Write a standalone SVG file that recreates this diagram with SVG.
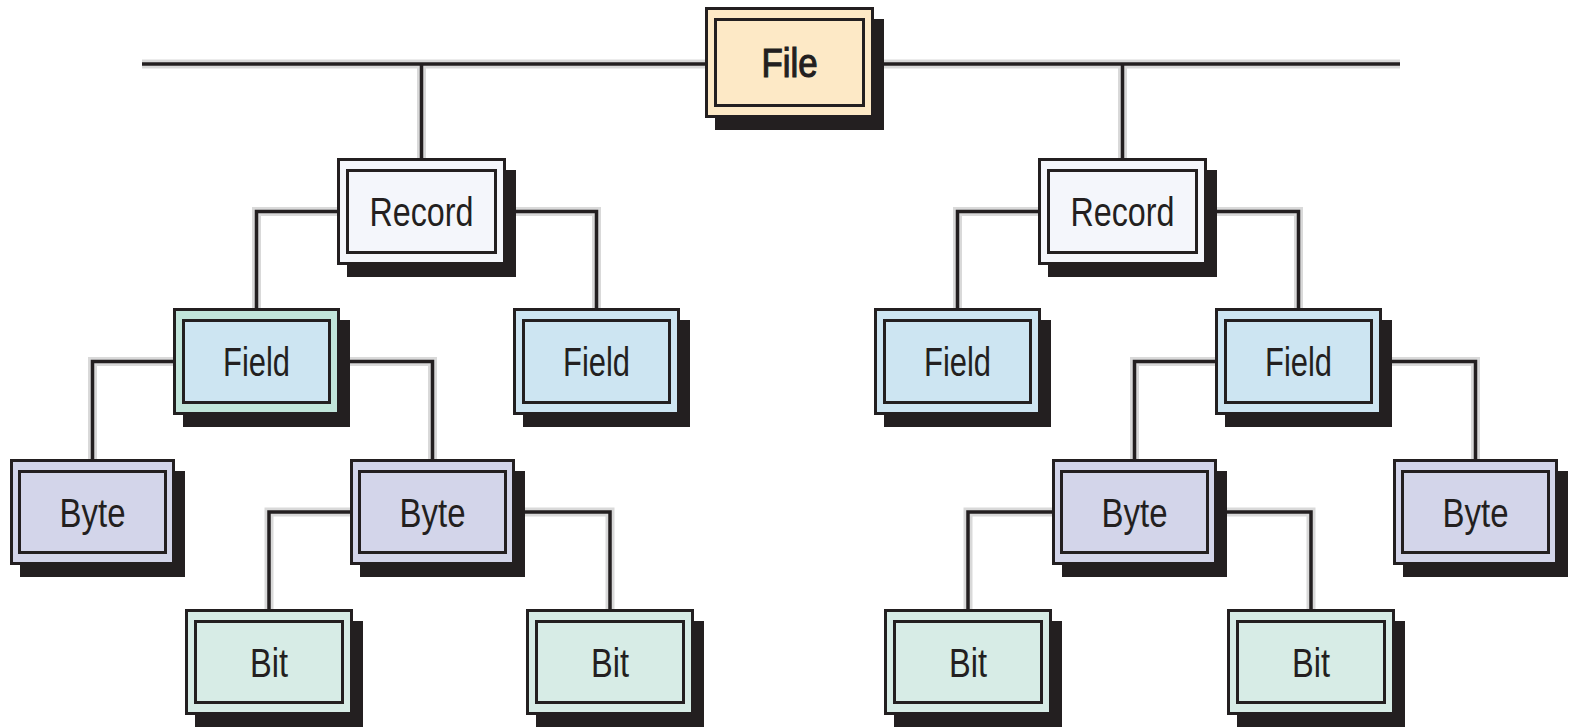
<svg xmlns="http://www.w3.org/2000/svg" width="1573" height="727" viewBox="0 0 1573 727">
  <style>
    .halo { fill: none; stroke: #d9d9d9; stroke-width: 9; }
    .wire { fill: none; stroke: #231f20; stroke-width: 3.5; }
    .shadow { fill: #231f20; }
    .frame { stroke: #231f20; stroke-width: 3; }
    .lbl { font-family: "Liberation Sans", Arial, sans-serif; font-size: 40px; fill: #231f20; text-anchor: middle; }
    .heavy { stroke: #231f20; stroke-width: 1.2; }
    .file { fill: #fde9c6; }
    .record { fill: #f4f6fb; }
    .field { fill: #cde5f2; }
    .fieldg { fill: #c1e5da; }
    .byte { fill: #d3d5ea; }
    .bit { fill: #d7ece6; }
  </style>

  <!-- connectors -->
  <g id="connectors">
    <g class="halo">
      <path d="M142 64 H1400"/>
      <path d="M421.5 64 V158 M1122.5 64 V158"/>
      <path d="M337 211.5 H256.5 V308 M506 211.5 H596.5 V308"/>
      <path d="M1038 211.5 H957.5 V308 M1207 211.5 H1298.5 V308"/>
      <path d="M173 361.5 H92.5 V459 M340 361.5 H432.5 V459"/>
      <path d="M1215 361.5 H1134.5 V459 M1382 361.5 H1475.5 V459"/>
      <path d="M350 512 H269 V609 M515 512 H610 V609"/>
      <path d="M1052 512 H968 V609 M1217 512 H1311 V609"/>
    </g>
    <g class="wire">
      <path d="M142 64 H1400"/>
      <path d="M421.5 64 V158 M1122.5 64 V158"/>
      <path d="M337 211.5 H256.5 V308 M506 211.5 H596.5 V308"/>
      <path d="M1038 211.5 H957.5 V308 M1207 211.5 H1298.5 V308"/>
      <path d="M173 361.5 H92.5 V459 M340 361.5 H432.5 V459"/>
      <path d="M1215 361.5 H1134.5 V459 M1382 361.5 H1475.5 V459"/>
      <path d="M350 512 H269 V609 M515 512 H610 V609"/>
      <path d="M1052 512 H968 V609 M1217 512 H1311 V609"/>
    </g>
  </g>

  <!-- File -->
  <g id="file">
    <rect class="shadow" x="715" y="19" width="169" height="111"/>
    <rect class="frame file" x="706.5" y="8.5" width="166" height="108"/>
    <rect class="frame file" x="715.5" y="19.5" width="148" height="86"/>
    <text class="lbl heavy" x="789.5" y="77" textLength="56" lengthAdjust="spacingAndGlyphs">File</text>
  </g>

  <!-- Records -->
  <g id="record-left">
    <rect class="shadow" x="347" y="170" width="169" height="107"/>
    <rect class="frame record" x="338.5" y="159.5" width="166" height="104"/>
    <rect class="frame record" x="347.5" y="170.5" width="148" height="82"/>
    <text class="lbl" x="421.5" y="226" textLength="104" lengthAdjust="spacingAndGlyphs">Record</text>
  </g>
  <g id="record-right">
    <rect class="shadow" x="1048" y="170" width="169" height="107"/>
    <rect class="frame record" x="1039.5" y="159.5" width="166" height="104"/>
    <rect class="frame record" x="1048.5" y="170.5" width="148" height="82"/>
    <text class="lbl" x="1122.5" y="226" textLength="104" lengthAdjust="spacingAndGlyphs">Record</text>
  </g>

  <!-- Fields -->
  <g id="field-left-1">
    <rect class="shadow" x="183" y="320" width="167" height="107"/>
    <rect class="frame fieldg" x="174.5" y="309.5" width="164" height="104"/>
    <rect class="frame field" x="183.5" y="320.5" width="146" height="82"/>
    <text class="lbl" x="256.5" y="376" textLength="67" lengthAdjust="spacingAndGlyphs">Field</text>
  </g>
  <g id="field-left-2">
    <rect class="shadow" x="523" y="320" width="167" height="107"/>
    <rect class="frame field" x="514.5" y="309.5" width="164" height="104"/>
    <rect class="frame field" x="523.5" y="320.5" width="146" height="82"/>
    <text class="lbl" x="596.5" y="376" textLength="67" lengthAdjust="spacingAndGlyphs">Field</text>
  </g>
  <g id="field-right-1">
    <rect class="shadow" x="884" y="320" width="167" height="107"/>
    <rect class="frame field" x="875.5" y="309.5" width="164" height="104"/>
    <rect class="frame field" x="884.5" y="320.5" width="146" height="82"/>
    <text class="lbl" x="957.5" y="376" textLength="67" lengthAdjust="spacingAndGlyphs">Field</text>
  </g>
  <g id="field-right-2">
    <rect class="shadow" x="1225" y="320" width="167" height="107"/>
    <rect class="frame field" x="1216.5" y="309.5" width="164" height="104"/>
    <rect class="frame field" x="1225.5" y="320.5" width="146" height="82"/>
    <text class="lbl" x="1298.5" y="376" textLength="67" lengthAdjust="spacingAndGlyphs">Field</text>
  </g>

  <!-- Bytes -->
  <g id="byte-left-1">
    <rect class="shadow" x="20" y="471" width="165" height="106"/>
    <rect class="frame byte" x="11.5" y="460.5" width="162" height="103"/>
    <rect class="frame byte" x="19.5" y="471.5" width="146" height="81"/>
    <text class="lbl" x="92.5" y="526.5" textLength="66" lengthAdjust="spacingAndGlyphs">Byte</text>
  </g>
  <g id="byte-left-2">
    <rect class="shadow" x="360" y="471" width="165" height="106"/>
    <rect class="frame byte" x="351.5" y="460.5" width="162" height="103"/>
    <rect class="frame byte" x="359.5" y="471.5" width="146" height="81"/>
    <text class="lbl" x="432.5" y="526.5" textLength="66" lengthAdjust="spacingAndGlyphs">Byte</text>
  </g>
  <g id="byte-right-1">
    <rect class="shadow" x="1062" y="471" width="165" height="106"/>
    <rect class="frame byte" x="1053.5" y="460.5" width="162" height="103"/>
    <rect class="frame byte" x="1061.5" y="471.5" width="146" height="81"/>
    <text class="lbl" x="1134.5" y="526.5" textLength="66" lengthAdjust="spacingAndGlyphs">Byte</text>
  </g>
  <g id="byte-right-2">
    <rect class="shadow" x="1403" y="471" width="165" height="106"/>
    <rect class="frame byte" x="1394.5" y="460.5" width="162" height="103"/>
    <rect class="frame byte" x="1402.5" y="471.5" width="146" height="81"/>
    <text class="lbl" x="1475.5" y="526.5" textLength="66" lengthAdjust="spacingAndGlyphs">Byte</text>
  </g>

  <!-- Bits -->
  <g id="bit-left-1">
    <rect class="shadow" x="195" y="621" width="168" height="106"/>
    <rect class="frame bit" x="186.5" y="610.5" width="165" height="103"/>
    <rect class="frame bit" x="195.5" y="621.5" width="147" height="81"/>
    <text class="lbl" x="269" y="676.5" textLength="38" lengthAdjust="spacingAndGlyphs">Bit</text>
  </g>
  <g id="bit-left-2">
    <rect class="shadow" x="536" y="621" width="168" height="106"/>
    <rect class="frame bit" x="527.5" y="610.5" width="165" height="103"/>
    <rect class="frame bit" x="536.5" y="621.5" width="147" height="81"/>
    <text class="lbl" x="610" y="676.5" textLength="38" lengthAdjust="spacingAndGlyphs">Bit</text>
  </g>
  <g id="bit-right-1">
    <rect class="shadow" x="894" y="621" width="168" height="106"/>
    <rect class="frame bit" x="885.5" y="610.5" width="165" height="103"/>
    <rect class="frame bit" x="894.5" y="621.5" width="147" height="81"/>
    <text class="lbl" x="968" y="676.5" textLength="38" lengthAdjust="spacingAndGlyphs">Bit</text>
  </g>
  <g id="bit-right-2">
    <rect class="shadow" x="1237" y="621" width="168" height="106"/>
    <rect class="frame bit" x="1228.5" y="610.5" width="165" height="103"/>
    <rect class="frame bit" x="1237.5" y="621.5" width="147" height="81"/>
    <text class="lbl" x="1311" y="676.5" textLength="38" lengthAdjust="spacingAndGlyphs">Bit</text>
  </g>
</svg>
